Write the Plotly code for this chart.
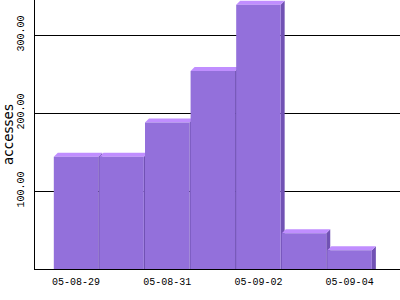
import plotly.graph_objects as go

dates = ["05-08-29", "05-08-30", "05-08-31", "05-09-01", "05-09-02", "05-09-03", "05-09-04"]
accesses = [144, 144, 188, 254, 339, 46, 24]
y_ticks = [100, 200, 300]
y_tick_labels = ["100.00", "200.00", "300.00"]

FRONT = "#9370DB"
TOP = "#C08EFF"
SIDE = "#7152B4"
W = 0.975      # front face width (category units)
DX = 0.088     # depth offset in x (category units)
DY = 5.1       # depth offset in y (data units)

fig = go.Figure()
for i, v in enumerate(accesses):
    x0, x1 = i - W / 2, i + W / 2
    # side face
    fig.add_trace(go.Scatter(x=[x1, x1, x1 + DX, x1 + DX, x1], y=[0, v, v + DY, 0, 0],
                             fill="toself", fillcolor=SIDE, mode="none", hoverinfo="skip",
                             showlegend=False))
    # top face
    fig.add_trace(go.Scatter(x=[x0, x0 + DX, x1 + DX, x1, x0], y=[v, v + DY, v + DY, v, v],
                             fill="toself", fillcolor=TOP, mode="none", hoverinfo="skip",
                             showlegend=False))
    # front face
    fig.add_trace(go.Scatter(x=[x0, x0, x1, x1, x0], y=[0, v, v, 0, 0],
                             fill="toself", fillcolor=FRONT, mode="none", hoverinfo="text",
                             text=f"{dates[i]}: {v}", showlegend=False))

fig.update_layout(
    width=400, height=300,
    margin=dict(l=35, r=0, t=0, b=31),
    paper_bgcolor="white", plot_bgcolor="white",
    font=dict(family="Liberation Mono", size=10, color="black"),
)
fig.update_xaxes(
    range=[-0.9, 7.105], showgrid=False, zeroline=False,
    showline=True, linecolor="black", linewidth=1,
    tickvals=list(range(0, len(dates), 2)), ticktext=dates[::2],
    ticks="", ticklabelstandoff=3,
    tickfont=dict(family="Liberation Mono", size=10),
)
fig.update_yaxes(
    range=[0, 345], showgrid=True, gridcolor="black", gridwidth=1, zeroline=False,
    showline=True, linecolor="black", linewidth=1,
    tickvals=y_ticks, ticktext=y_tick_labels, tickangle=-90, ticks="",
    ticklabelstandoff=6,
    tickfont=dict(family="Liberation Mono", size=10),
    title=dict(text="accesses", font=dict(family="DejaVu Sans", size=13.5), standoff=3),
)
fig.write_html("out.html")
